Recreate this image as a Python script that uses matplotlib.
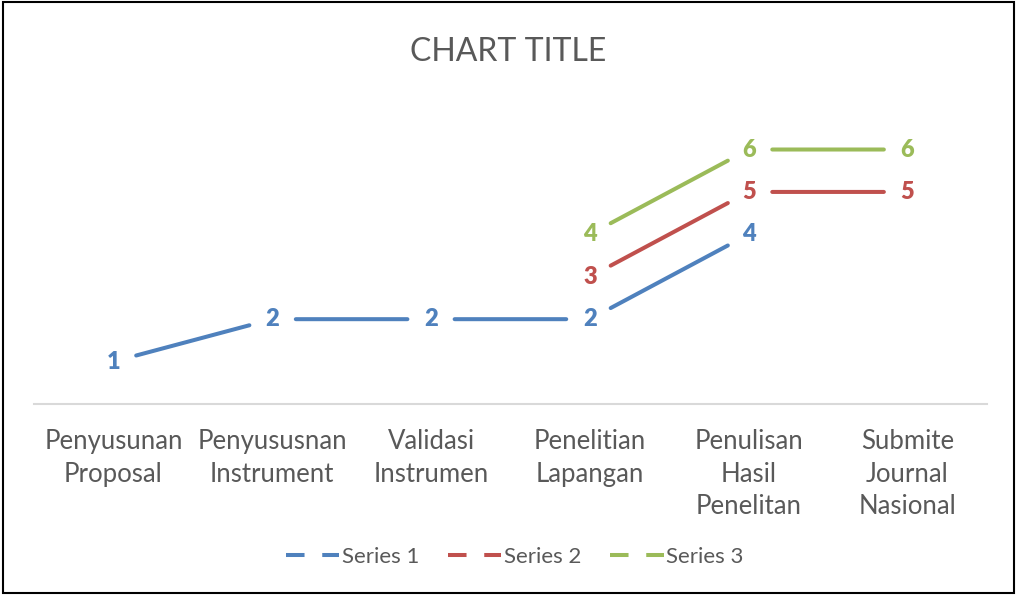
import numpy as np
import matplotlib
matplotlib.use("Agg")
import matplotlib.pyplot as plt
from matplotlib.lines import Line2D
from matplotlib.patches import Rectangle

categories = ["Penyusunan\nProposal", "Penyususnan\nInstrument", "Validasi\nInstrumen",
              "Penelitian\nLapangan", "Penulisan\nHasil\nPenelitan", "Submite\nJournal\nNasional"]
series_names = ["Series 1", "Series 2", "Series 3"]
series_1 = [1, 2, 2, 2, 4, np.nan]
series_2 = [np.nan, np.nan, np.nan, 3, 5, 5]
series_3 = [np.nan, np.nan, np.nan, 4, 6, 6]
colors = ["#4F81BD", "#C0504D", "#9BBB59"]

plt.rcParams["font.family"] = ["Lato", "DejaVu Sans"]
text_gray = "#595959"

fig = plt.figure(figsize=(10.17, 5.95), dpi=100)
ax = fig.add_axes([0.0334, 0.321, 0.937, 0.499])

x = np.arange(len(categories))
for vals, col in zip([series_1, series_2, series_3], colors):
    for i in range(len(vals)):
        if np.isnan(vals[i]):
            continue
        ax.text(x[i], vals[i], f"{vals[i]:g}", color=col, fontsize=17, fontweight="heavy",
                ha="center", va="center")
        if i + 1 < len(vals) and not np.isnan(vals[i + 1]):
            ax.annotate("", xy=(x[i + 1], vals[i + 1]), xytext=(x[i], vals[i]),
                        arrowprops=dict(arrowstyle="-", color=col, lw=2.9,
                                        shrinkA=17, shrinkB=17))

ax.set_xlim(-0.5, len(categories) - 0.5)
ax.set_ylim(0, 7)
ax.set_xticks(x)
ax.set_xticklabels(categories, fontsize=18.5, color=text_gray, linespacing=1.38, va="top")
ax.tick_params(axis="x", length=0, pad=18)
ax.set_yticks([])
for s in ["left", "right", "top"]:
    ax.spines[s].set_visible(False)
ax.spines["bottom"].set_color("#D9D9D9")
ax.spines["bottom"].set_linewidth(1.5)

fig.text(0.5, 0.912, "CHART TITLE", ha="center", va="center", fontsize=23, color=text_gray)

handles = [Line2D([], [], color=c, lw=2.9, dashes=(4.6, 4.4)) for c in colors]
fig.legend(handles, series_names, loc="center", bbox_to_anchor=(0.506, 0.064), ncol=3,
           frameon=False, fontsize=16, labelcolor=text_gray, handlelength=2.4,
           handletextpad=0.12, columnspacing=1.3)

fig.patches.append(Rectangle((0.003, 0.003), 0.994, 0.994, transform=fig.transFigure,
                             fill=False, edgecolor="black", lw=1.5))

fig.savefig("out.png", dpi=100)
